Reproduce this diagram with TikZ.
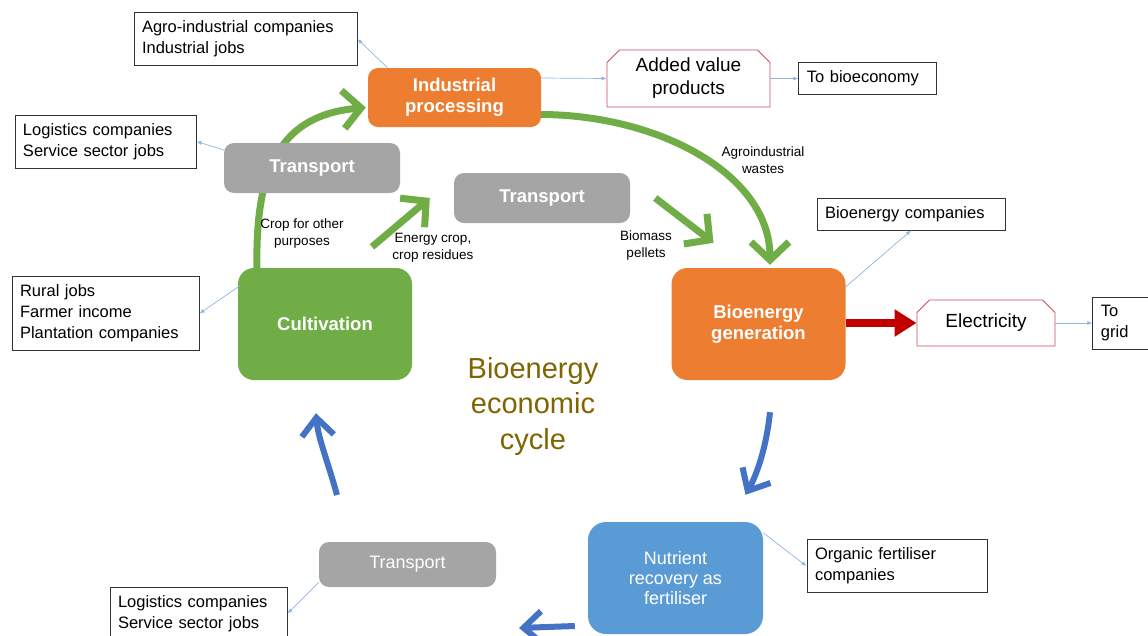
\documentclass[tikz,border=0pt]{standalone}
\usepackage{fontspec}
\setmainfont{Liberation Sans}
\usepackage{xcolor}
\usetikzlibrary{arrows.meta, positioning, shapes.misc}

\definecolor{procorange}{RGB}{237,125,49}
\definecolor{cropgreen}{RGB}{112,173,71}
\definecolor{transgray}{RGB}{165,165,165}
\definecolor{nutrblue}{RGB}{91,155,213}
\definecolor{cycleblue}{RGB}{68,114,196}
\definecolor{linkblue}{RGB}{141,180,226}
\definecolor{gridred}{RGB}{192,0,0}
\definecolor{prodred}{RGB}{200,80,90}
\definecolor{titlegold}{RGB}{128,100,0}

\tikzstyle{stage} = [rectangle, rounded corners=16pt, minimum width=174pt, minimum height=112pt, align=center, text=white, font=\fontsize{18.5}{21}\selectfont\bfseries]
\tikzstyle{carrier} = [rectangle, rounded corners=10pt, minimum width=176pt, minimum height=50pt, align=center, fill=transgray, text=white, font=\fontsize{18.5}{21}\selectfont\bfseries]
\tikzstyle{product} = [chamfered rectangle, chamfered rectangle corners={north west, north east}, chamfered rectangle xsep=9pt, draw=prodred, line width=0.9pt, align=center, font=\fontsize{19}{23}\selectfont]
\tikzstyle{impact} = [rectangle, draw=black!80, line width=1pt, align=left, inner sep=8pt, font=\fontsize{16.5}{21}\selectfont]
\tikzstyle{flowlabel} = [align=center, font=\fontsize{13.5}{17}\selectfont]
\tikzstyle{greenflow} = [draw=cropgreen, line width=7pt, -{Straight Barb[length=18pt,width=38pt]}]
\tikzstyle{blueflow} = [draw=cycleblue, line width=6pt, -{Straight Barb[length=18pt,width=32pt]}]
\tikzstyle{powerflow} = [draw=gridred, line width=8pt, -{Triangle[length=22pt,width=26pt]}]
\tikzstyle{link} = [draw=linkblue, line width=0.7pt, -{Latex[length=5pt,width=4pt]}]

\begin{document}
\begin{tikzpicture}[x=1pt, y=-1pt]

\useasboundingbox (0,0) rectangle (1148,635);
\clip (0,0) rectangle (1148,635);

% Main stages
\node (cult) [stage, fill=cropgreen] at (325,324) {Cultivation};
\node (ind) [stage, fill=procorange, rounded corners=10pt, minimum width=173pt, minimum height=59pt] at (454.5,97.5) {Industrial\\processing};
\node (gen) [stage, fill=procorange] at (758.5,324) {Bioenergy\\generation};
\node (nutr) [stage, fill=nutrblue, rounded corners=18pt, minimum width=175pt, font=\fontsize{18}{20}\selectfont] at (675.5,578) {Nutrient\\recovery as\\fertiliser};

% Crop going to processing (behind the transport box)
\draw [greenflow] ([xshift=-68pt]cult.north) .. controls (255,165) and (282,115) .. ([xshift=-2pt,yshift=-10pt]ind.west);

% Transport steps
\node (trans1) [carrier] at (312,168) {Transport};
\node (trans2) [carrier] at (542,198) {Transport};
\node (trans3) [carrier, minimum width=177pt, minimum height=45pt, font=\fontsize{18}{20}\selectfont] at (407.5,564.5) {Transport};

% Products
\node (added) [product, minimum width=163pt, minimum height=57pt] at (688.5,78.5) {Added value\\products};
\node (elec) [product, minimum width=138pt, minimum height=46pt] at (986,323) {Electricity};

% Economic impacts
\node (agro) [impact, text width=207pt, minimum height=52pt] at (245.5,39) {Agro-industrial companies\\Industrial jobs};
\node (logup) [impact, text width=165pt, minimum height=53pt] at (105.5,141.5) {Logistics companies\\Service sector jobs};
\node (rural) [impact, text width=171pt, minimum height=73pt] at (105.5,313.5) {Rural jobs\\Farmer income\\Plantation companies};
\node (tobio) [impact, text width=122pt, minimum height=32pt, right=28pt of added] {To bioeconomy};
\node (bioco) [impact, text width=172pt, minimum height=32pt] at (911,214) {Bioenergy companies};
\node (grid) [impact, text width=54pt, minimum height=52pt, right=37pt of elec] {To\\grid};
\node (orgfert) [impact, text width=164pt, minimum height=52pt] at (897,566) {Organic fertiliser\\companies};
\node (logdown) [impact, text width=161pt, minimum height=53pt] at (198.5,613.5) {Logistics companies\\Service sector jobs};

% Flow labels
\node (cropother) [flowlabel] at (302,234) {Crop for other\\purposes};
\node (energycrop) [flowlabel] at (433,248) {Energy crop,\\crop residues};
\node (pellets) [flowlabel] at (646,246) {Biomass\\pellets};
\node (wastes) [flowlabel] at (763,160) {Agroindustrial\\wastes};
\node (cycle) [align=center, text=titlegold, font=\fontsize{29}{35.5}\selectfont] at (533,406) {Bioenergy\\economic\\cycle};

% Biomass flows
\draw [greenflow] ([xshift=47pt,yshift=21pt]cult.north) -- ([xshift=-24pt]trans2.west);
\draw [greenflow] ([xshift=25pt]trans2.east) -- ([xshift=-45pt,yshift=25pt]gen.north);
\draw [greenflow] ([yshift=-17pt]ind.east) .. controls (660,115) and (770,175) .. ([xshift=11.5pt,yshift=3pt]gen.north);

% Power output
\draw [powerflow] (gen.east |- elec.west) -- (elec.west);

% Return of nutrients
\coordinate (retout) at (519,628);
\coordinate (retin) at (337,495);
\draw [blueflow] ([xshift=11.5pt,yshift=-32pt]gen.south) .. controls (766,450) and (756,476) .. ([xshift=70pt,yshift=27pt]nutr.north);
\draw [blueflow] ([xshift=-13pt,yshift=-48pt]nutr.west) -- (retout);
\draw [blueflow] (retin) .. controls (328,462) and (318,438) .. ([xshift=-9pt,yshift=-33pt]cult.south);

% Links to impacts
\draw [link] ([xshift=-67pt]ind.north) -- (agro.east);
\draw [link] ([yshift=19.5pt]ind.east) -- (added.west);
\draw [link] (added.east) -- (tobio.west);
\draw [link] ([yshift=18pt]trans1.west) -- (logup.east);
\draw [link] ([xshift=2pt,yshift=-18pt]cult.north west) -- (rural.east);
\draw [link] ([yshift=-19pt]gen.north east) -- (bioco.south);
\draw [link] (elec.east) -- (grid.west);
\draw [link] ([yshift=-11pt]nutr.north east) -- (orgfert.west);
\draw [link] ([yshift=5pt]trans3.south west) -- (logdown.east);

\end{tikzpicture}
\end{document}
